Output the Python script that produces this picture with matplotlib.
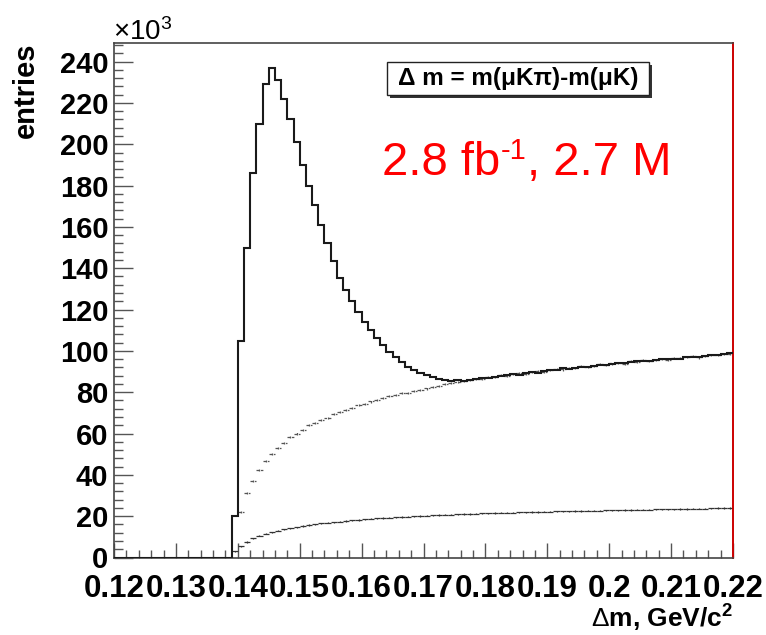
import numpy as np
import matplotlib
matplotlib.use("Agg")
import matplotlib.pyplot as plt
from matplotlib.patches import Rectangle
from matplotlib.ticker import MultipleLocator, FixedLocator, FixedFormatter

plt.rcParams['font.family'] = ['Liberation Sans', 'DejaVu Sans']
plt.rcParams['mathtext.fontset'] = 'custom'
plt.rcParams['mathtext.rm'] = 'Liberation Sans'
plt.rcParams['mathtext.it'] = 'Liberation Sans:italic'
plt.rcParams['mathtext.bf'] = 'Liberation Sans:bold'

# ---------------- data (entries in units of 10^3, 1 MeV bins) ----------------
x_min, x_max, bin_w = 0.12, 0.22, 0.001
first_bin = 0.139          # lower edge of first non-empty bin

# D*-like signal histogram (solid)
signal = [20, 105, 150, 186, 210, 229, 237, 231, 222, 212,
          201, 190, 180, 170.5, 161, 152, 143.5, 135.5, 129.5, 124,
          119, 114, 110, 106, 102.7, 99.5, 97, 94.6, 92.3, 90.6,
          89.5, 88.3, 87.3, 86.5, 86.0, 85.6, 85.8, 85.2, 86.0, 86.3,
          86.8, 87.0, 87.5, 87.6, 88.3, 88.6, 88.5, 89.2, 89.6, 89.5,
          90.3, 90.6, 90.8, 91.5, 91.3, 91.9, 92.3, 92.1, 92.8, 93.3,
          93.2, 93.8, 94.1, 94.0, 94.6, 94.9, 95.1, 95.0, 95.6, 95.9,
          96.1, 96.3, 96.2, 96.8, 97.2, 97.1, 97.6, 97.9, 98.2, 98.3,
          98.8]

# background estimate (dotted points)
background = [0, 22, 31, 37, 42.5, 46.5, 50, 53, 55.5, 58.5,
              60, 61.5, 64, 65, 66.5, 67.5, 69.5, 70.5, 71.5, 72.5,
              74, 74.5, 75.5, 76, 77, 78, 78.5, 79.5, 79.8, 80.8,
              81, 81.8, 82.5, 83.2, 83.8, 84.5, 84.8, 85.6, 85.9, 86.6,
              86.4, 87.2, 87.4, 88.4, 88.0, 88.8, 89.3, 89.0, 89.9, 90.1,
              89.8, 90.7, 91.2, 91.0, 91.8, 91.6, 92.5, 92.4, 92.9, 93.6,
              93.1, 93.9, 94.3, 93.7, 94.9, 94.7, 95.4, 95.2, 95.8, 96.2,
              95.7, 96.6, 96.4, 96.9, 97.5, 96.8, 97.7, 98.1, 97.9, 98.6,
              98.5]

# lower distribution (thin line with errors)
lower = [3, 5.5, 7.5, 9.3, 10.5, 11.5, 12.2, 12.9, 13.6, 14.2,
         14.7, 15.2, 15.7, 16.1, 16.5, 16.8, 17.1, 17.4, 17.7, 18.0,
         18.2, 18.5, 18.7, 18.9, 19.1, 19.3, 19.5, 19.6, 19.8, 20.0,
         20.1, 20.3, 20.4, 20.6, 20.7, 20.8, 20.9, 21.0, 21.1, 21.2,
         21.3, 21.4, 21.5, 21.6, 21.6, 21.7, 21.8, 21.9, 22.0, 22.0,
         22.1, 22.2, 22.3, 22.3, 22.4, 22.5, 22.5, 22.6, 22.7, 22.7,
         22.8, 22.9, 22.9, 23.0, 23.0, 23.1, 23.2, 23.2, 23.3, 23.3,
         23.4, 23.4, 23.5, 23.5, 23.6, 23.7, 23.7, 23.8, 23.9, 23.9,
         24.0]

x_ticks = [0.12, 0.13, 0.14, 0.15, 0.16, 0.17, 0.18, 0.19, 0.20, 0.21, 0.22]
x_tick_labels = ["0.12", "0.13", "0.14", "0.15", "0.16", "0.17", "0.18",
                 "0.19", "0.2", "0.21", "0.22"]
y_ticks = [0, 20, 40, 60, 80, 100, 120, 140, 160, 180, 200, 220, 240]
y_tick_labels = [str(v) for v in y_ticks]

# ---------------- figure ----------------
W, H = 766, 635
fig = plt.figure(figsize=(W / 100, H / 100), dpi=100)
ax = fig.add_axes([114 / W, 1 - 557.5 / H, (733 - 114) / W, (557.5 - 43) / H])

n_all = int(round((x_max - x_min) / bin_w))
edges = x_min + bin_w * np.arange(n_all + 1)
n_empty = int(round((first_bin - x_min) / bin_w))
sig_full = np.concatenate([np.zeros(n_empty), np.array(signal, float)])
centers = edges[:-1] + bin_w / 2
c_used = centers[n_empty:]

ax.stairs(sig_full, edges, color='#1a1a1a', lw=1.5, baseline=None, zorder=3)

bg = np.array(background, float)
m = bg > 0
eb = ax.errorbar(c_used[m], bg[m], xerr=bin_w * 0.5, yerr=0.5, fmt='none',
                 ecolor='#555555', elinewidth=0.9, zorder=2)
for lc in eb[2]:
    lc.set_linestyle((0, (2.0, 1.5)))

lw_ = np.array(lower, float)
ax.errorbar(c_used, lw_, xerr=bin_w * 0.5, yerr=0.3, fmt='none',
            ecolor='#333333', elinewidth=0.9, zorder=2)

ax.set_xlim(x_min, x_max)
ax.set_ylim(0, 249)

ax.xaxis.set_major_locator(FixedLocator(x_ticks))
ax.xaxis.set_major_formatter(FixedFormatter(x_tick_labels))
ax.xaxis.set_minor_locator(MultipleLocator(0.002))
ax.yaxis.set_major_locator(FixedLocator(y_ticks))
ax.yaxis.set_major_formatter(FixedFormatter(y_tick_labels))
ax.yaxis.set_minor_locator(MultipleLocator(4))

ax.tick_params(axis='both', which='both', direction='in', color='#555555',
               top=False, right=False, width=1.0)
ax.tick_params(axis='x', which='major', length=11, pad=12.0, labelsize=22.5)
ax.tick_params(axis='x', which='minor', length=5.5)
ax.tick_params(axis='y', which='major', length=13.5, pad=4, labelsize=21)
ax.tick_params(axis='y', which='minor', length=6.5)
for lab in ax.get_xticklabels() + ax.get_yticklabels():
    lab.set_fontweight('bold')

for s in ['left', 'bottom', 'top']:
    ax.spines[s].set_color('#444444')
    ax.spines[s].set_linewidth(1.2)
ax.spines['right'].set_color('#cc0000')
ax.spines['right'].set_linewidth(1.4)

# axis titles
fig.text(26 / W, 1 - 43 / H, 'entries', rotation=90, ha='center', va='top',
         fontsize=21, fontweight='bold')
fig.text(733 / W, 1 / H, r'$\Delta$m, GeV/c$^{\mathbf{2}}$', ha='right',
         va='bottom', fontsize=19, fontweight='bold')
fig.text(113 / W, 1 - 40 / H, r'$\times$10$^{3}$', ha='left', va='baseline',
         fontsize=20)

# title box with shadow
bx0, bx1, by0, by1 = 387, 649, 62, 95
fig.patches.append(Rectangle(((bx0 + 3) / W, 1 - (by1 + 3) / H), (bx1 - bx0) / W,
                             (by1 - by0) / H, transform=fig.transFigure,
                             facecolor='#333333', edgecolor='none', zorder=5))
fig.patches.append(Rectangle((bx0 / W, 1 - by1 / H), (bx1 - bx0) / W,
                             (by1 - by0) / H, transform=fig.transFigure,
                             facecolor='white', edgecolor='#222222', lw=1.0,
                             zorder=6))
fig.text((bx0 + bx1) / 2 / W, 1 - (by0 + by1) / 2 / H,
         'Δ m = m(μKπ)-m(μK)', ha='center', va='center', fontsize=17.5,
         fontweight='bold', zorder=7)

# red luminosity text, built from pieces so the superscript keeps a short hyphen
renderer = fig.canvas.get_renderer()
base_y = 1 - 175 / H
t1 = fig.text(382 / W, base_y, '2.8 fb', color='red', ha='left',
              va='baseline', fontsize=34)
x_after = t1.get_window_extent(renderer).x1 / W
t2 = fig.text(x_after + 1 / W, base_y + 16 / H, '-1', color='red', ha='left',
              va='baseline', fontsize=21)
x_after = t2.get_window_extent(renderer).x1 / W
fig.text(x_after, base_y, ', 2.7 M', color='red', ha='left', va='baseline',
         fontsize=34)

fig.savefig('out.png', dpi=100)
